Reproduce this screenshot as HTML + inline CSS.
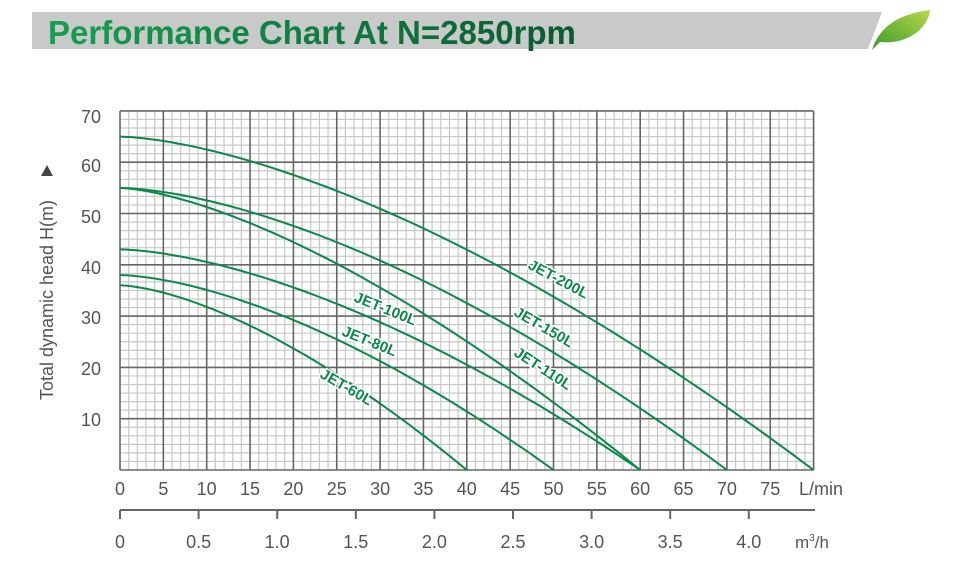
<!DOCTYPE html>
<html><head><meta charset="utf-8"><style>
body{margin:0;background:#fff;width:964px;height:560px;overflow:hidden;font-family:"Liberation Sans",sans-serif}
</style></head><body>
<svg id="s" width="964" height="560" xmlns="http://www.w3.org/2000/svg">
<defs><linearGradient id="lf" x1="0" y1="1" x2="1" y2="0"><stop offset="0" stop-color="#3a9a2a"/><stop offset="1" stop-color="#b8d84a"/></linearGradient>
<linearGradient id="tg" x1="0" x2="1"><stop offset="0" stop-color="#14a050"/><stop offset="1" stop-color="#0a5a30"/></linearGradient></defs>
<polygon points="32,12 882,12 868,49 32,49" fill="#c8c9c9"/>
<text x="48" y="44" font-size="33" font-weight="bold" fill="url(#tg)">Performance Chart At N=2850rpm</text>
<path d="M872,50 C880,25 900,14 930,10 C928,30 905,45 880,42 Z" fill="url(#lf)"/>
<g id="grid"></g>
<g id="curves" fill="none" stroke="#0a8a48" stroke-width="2"></g>
<g font-size="18" fill="#555" text-anchor="end">
<text x="101" y="123">70</text><text x="101" y="172">60</text><text x="101" y="223">50</text><text x="101" y="274">40</text><text x="101" y="324">30</text><text x="101" y="375">20</text><text x="101" y="426">10</text>
</g>
<text transform="translate(53,300) rotate(-90)" font-size="18" fill="#555" text-anchor="middle">Total dynamic head H(m)</text>
<polygon points="41,176 53,176 47,165" fill="#444"/>
<g id="xl" font-size="18" fill="#555" text-anchor="middle"></g>
<line x1="120" y1="510" x2="815" y2="510" stroke="#666" stroke-width="2"/>
<g font-size="15" font-weight="bold" fill="#0a8a48" stroke="#fff" stroke-width="3" paint-order="stroke">
<text transform="translate(527,268) rotate(28)">JET-200L</text>
<text transform="translate(513,315) rotate(30)">JET-150L</text>
<text transform="translate(513,355) rotate(33)">JET-110L</text>
<text transform="translate(353,301) rotate(22)">JET-100L</text>
<text transform="translate(341,335) rotate(22)">JET-80L</text>
<text transform="translate(319,377) rotate(30)">JET-60L</text>
</g>
</svg>
<script>
var NS="http://www.w3.org/2000/svg",g=document.getElementById('grid');
function L(p,x1,y1,x2,y2,c,w){var l=document.createElementNS(NS,'line');l.setAttribute('x1',x1);l.setAttribute('y1',y1);l.setAttribute('x2',x2);l.setAttribute('y2',y2);l.setAttribute('stroke',c);l.setAttribute('stroke-width',w);p.appendChild(l);}
var X0=120,XS=8.67,Y0=470,YS=5.13;
for(var i=0;i<=80;i++){if(i%5)L(g,X0+i*XS,111,X0+i*XS,Y0,'#c8c8c8',1.2);}
for(var j=0;j<=42;j++){if(j%6)L(g,X0,Y0-j*70/42*YS,X0+80*XS,Y0-j*70/42*YS,'#c8c8c8',1.2);}
for(var i=0;i<=80;i+=5)L(g,X0+i*XS,111,X0+i*XS,Y0,'#666',1.6);
for(var j=0;j<=70;j+=10)L(g,X0,Y0-j*YS,X0+80*XS,Y0-j*YS,'#666',1.6);
var c=document.getElementById('curves');
[[65,80,1.56],[55,70,1.6],[55,60,1.5],[43,60,1.6],[38,50,1.6],[36,40,1.55]].forEach(function(a){
 var pts=[];for(var k=0;k<=60;k++){var q=a[1]*k/60,h=a[0]*(1-Math.pow(q/a[1],a[2]));pts.push((X0+q*XS).toFixed(1)+','+(Y0-h*YS).toFixed(1));}
 var p=document.createElementNS(NS,'polyline');p.setAttribute('points',pts.join(' '));c.appendChild(p);});
var xl=document.getElementById('xl'),s=document.getElementById('s');
function T(x,y,t){var e=document.createElementNS(NS,'text');e.setAttribute('x',x);e.setAttribute('y',y);e.textContent=t;xl.appendChild(e);}
for(var i=0;i<=75;i+=5)T(X0+i*XS,495,i);
var e=document.createElementNS(NS,'text');e.setAttribute('x',799);e.setAttribute('y',495);e.setAttribute('font-size','18');e.setAttribute('fill','#555');e.textContent='L/min';s.appendChild(e);
['0','0.5','1.0','1.5','2.0','2.5','3.0','3.5','4.0'].forEach(function(t,k){var x=X0+k*78.6;L(s,x,510,x,519,'#666',2);T(x,548,t);});
var m=document.createElementNS(NS,'text');m.setAttribute('x',795);m.setAttribute('y',548);m.setAttribute('font-size','17');m.setAttribute('fill','#555');m.innerHTML='m<tspan dy="-7" font-size="10">3</tspan><tspan dy="7">/h</tspan>';s.appendChild(m);
</script>
</body></html>
